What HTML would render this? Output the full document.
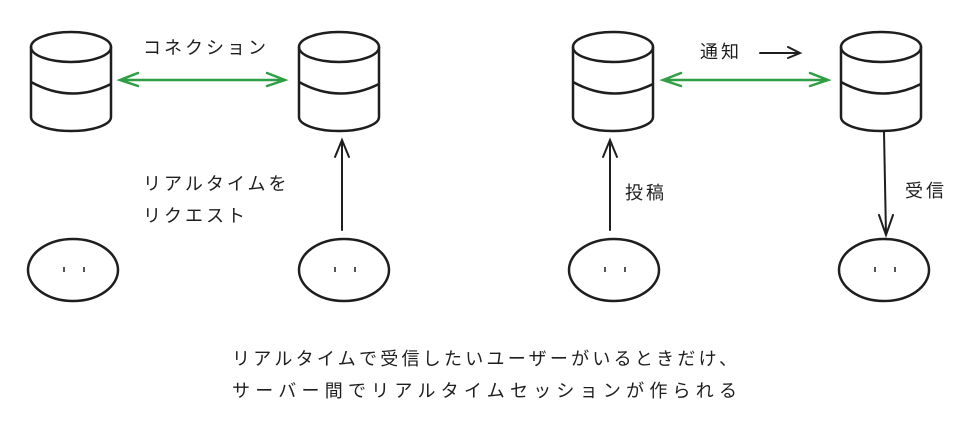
<!DOCTYPE html>
<html><head><meta charset="utf-8"><style>
body{margin:0;background:#fff;width:974px;height:434px;overflow:hidden}
svg text{font-family:"Liberation Sans","Noto Sans CJK JP",sans-serif;font-size:18px;fill:#1e1e1e;letter-spacing:3px}
</style></head><body>
<svg width="974" height="434" viewBox="0 0 974 434">
<defs>
<g id="cyl" fill="none" stroke="#1e1e1e" stroke-width="2.5">
<ellipse cx="0" cy="47" rx="40" ry="15"/>
<path d="M-40 47 V117 A40 14 0 0 0 40 117 V47"/>
<path d="M-40 82 Q0 104 40 84"/>
</g>
<g id="face" fill="none" stroke="#1e1e1e" stroke-width="2.5">
<ellipse cx="0" cy="270" rx="45" ry="31"/>
<path d="M-9 267 v5 M11 267 v5" stroke-width="1.5"/>
</g>
</defs>
<use href="#cyl" x="71"/><use href="#cyl" x="339"/><use href="#cyl" x="613"/><use href="#cyl" x="881"/>
<use href="#face" x="73"/><use href="#face" x="344"/><use href="#face" x="614"/><use href="#face" x="884"/>
<g stroke="#2f9e44" stroke-width="2.5" fill="none" stroke-linecap="round">
<path d="M120 80 H285 M138 73 L120 80 L138 86 M267 73 L285 80 L267 86"/>
<path d="M663 80 H828 M681 73 L663 80 L681 86 M810 73 L828 80 L810 86"/>
</g>
<g stroke="#1e1e1e" stroke-width="2" fill="none" stroke-linecap="round">
<path d="M342 230 V140 M335 157 L342 140 L349 157"/>
<path d="M610 230 V140 M603 157 L610 140 L617 157"/>
<path d="M884 132 L886 235 M879 215 L886 235 L893 215"/>
<path d="M760 53 H800 M788 47 L800 53 L788 58"/>
</g>
<text x="143" y="54">コネクション</text>
<text x="143" y="190">リアルタイムを</text>
<text x="143" y="222">リクエスト</text>
<text x="700" y="58">通知</text>
<text x="625" y="199">投稿</text>
<text x="905" y="197">受信</text>
<text x="232" y="365" textLength="508" lengthAdjust="spacing">リアルタイムで受信したいユーザーがいるときだけ、</text>
<text x="232" y="397" textLength="508" lengthAdjust="spacing">サーバー間でリアルタイムセッションが作られる</text>
</svg>
</body></html>
